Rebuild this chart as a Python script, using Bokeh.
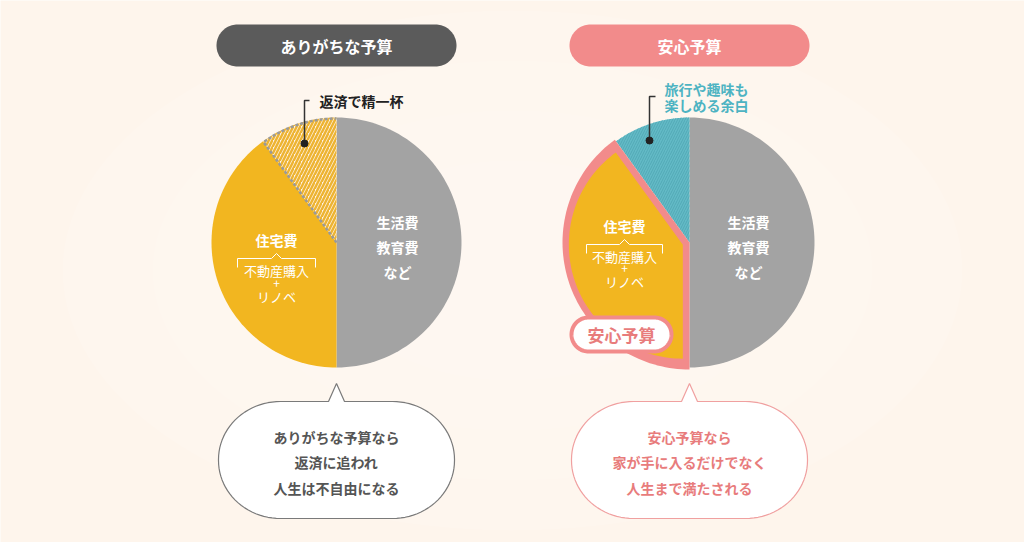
import numpy as np
from bokeh.plotting import figure
from bokeh.models import Range1d
from bokeh.core.properties import value
from bokeh.embed import file_html
from bokeh.resources import INLINE

# ---------------- data ----------------
panel_titles = ["ありがちな予算", "安心予算"]
left_shares = [0.5, 0.4, 0.1]      # 生活費など, 住宅費, 返済
right_shares = [0.5, 0.4, 0.1]     # 生活費など, 住宅費, 余白
gray_labels = ["生活費", "教育費", "など"]
house_title = "住宅費"
house_labels = ["不動産購入", "+", "リノベ"]
left_callout = ["返済で精一杯"]
right_callout = ["旅行や趣味も", "楽しめる余白"]
badge_label = "安心予算"
left_bubble = ["ありがちな予算なら", "返済に追われ", "人生は不自由になる"]
right_bubble = ["安心予算なら", "家が手に入るだけでなく", "人生まで満たされる"]

# ---------------- style ----------------
BG = "#FEF5EC"
GRAY = "#A3A3A3"
YELLOW = "#F2B620"
CYAN = "#63BAC6"
PINK = "#F28B8B"
DARK = "#5B5B5B"
FONT = value("Noto Sans CJK JP")

W, H = 1024, 542
p = figure(width=W, height=H, output_backend="svg", toolbar_location=None,
           x_range=Range1d(0, W), y_range=Range1d(H, 0), min_border=0)
p.axis.visible = False
p.grid.visible = False
p.outline_line_color = None
p.background_fill_color = BG
p.border_fill_color = BG

# subtle light glow in the middle
for k, a in enumerate([0.10, 0.10, 0.10, 0.10]):
    p.ellipse(x=512, y=270, width=900 - k * 180, height=520 - k * 100,
              fill_color="white", fill_alpha=a, line_color=None)


def wedge(cx, cy, r, f0, f1, n=80, center=True):
    t = np.linspace(f0, f1, n) * 2 * np.pi
    xs = list(cx + r * np.sin(t))
    ys = list(cy - r * np.cos(t))
    if center:
        xs = [cx] + xs
        ys = [cy] + ys
    return xs, ys


def rrect(x0, y0, x1, y1, rx, ry, n=24, notch=None):
    xs, ys = [], []
    xs.append(x0 + rx); ys.append(y0)
    if notch is not None:
        ncx, nw, tip = notch
        xs += [ncx - nw, ncx, ncx + nw]
        ys += [y0, y0 - tip, y0]
    corners = [((x1 - rx, y0 + ry), -90, 0), ((x1 - rx, y1 - ry), 0, 90),
               ((x0 + rx, y1 - ry), 90, 180), ((x0 + rx, y0 + ry), 180, 270)]
    for (ccx, ccy), a0, a1 in corners:
        t = np.radians(np.linspace(a0, a1, n))
        xs += list(ccx + rx * np.cos(t))
        ys += list(ccy + ry * np.sin(t))
    return xs, ys


def text(x, y, s, size, color, bold=True, align="center"):
    p.text(x=[x], y=[y], text=[s], text_font=FONT, text_font_size=f"{size}px",
           text_font_style="bold" if bold else "normal", text_color=color,
           text_align=align, text_baseline="middle")


R = 125
panels = [dict(cx=336, cy=242, shares=left_shares, title_color=DARK),
          dict(cx=689, cy=242, shares=right_shares, title_color=PINK)]

# title pills
for i, pn in enumerate(panels):
    xs, ys = rrect(pn["cx"] - 120, 24, pn["cx"] + 120, 66, 21, 21)
    p.patch(xs, ys, fill_color=pn["title_color"], line_color=None)
    text(pn["cx"], 45, panel_titles[i], 16, "white")

# ---------- left pie ----------
cx, cy = panels[0]["cx"], panels[0]["cy"]
c = np.cumsum([0] + left_shares)
xs, ys = wedge(cx, cy, R, c[0], c[1])
p.patch(xs, ys, fill_color=GRAY, line_color=None)
xs, ys = wedge(cx, cy, R, c[1], c[2])
p.patch(xs, ys, fill_color=YELLOW, line_color=None)
xs, ys = wedge(cx, cy, R, c[2], c[3])
p.patch(xs, ys, fill_color=BG, fill_alpha=1, hatch_pattern="/", hatch_color="#EDB432",
        hatch_scale=7, hatch_weight=2.5, line_color=None)
ax, ay = wedge(cx, cy, R - 1, c[2], c[3], center=False)
p.line([cx] + ax, [cy] + ay, line_color="#9A9A9A", line_width=2.5, line_dash="3 2")

# gray labels
for k, s in enumerate(gray_labels):
    text(cx + 61, 221 + k * 25, s, 14, "white")
# house labels
hx = 276
text(hx, 239, house_title, 14, "white")
p.multi_line(xs=[[hx - 39, hx - 39, hx - 5, hx, hx + 5, hx + 39, hx + 39]],
             ys=[[267, 258, 258, 253, 258, 258, 267]], line_color="white", line_width=1)
text(hx, 270, house_labels[0], 13, "white", bold=False)
text(hx, 283, house_labels[1], 12, "white", bold=False)
text(hx, 296, house_labels[2], 13, "white", bold=False)

# callout
p.line([309, 304, 304], [100, 100, 143], line_color="#333333", line_width=1.5)
p.scatter([304], [143], size=7, color="#222222")
text(319, 100, left_callout[0], 14, "#222222", align="left")

# ---------- right pie ----------
cx, cy = panels[1]["cx"], panels[1]["cy"]
c = np.cumsum([0] + right_shares)
xs, ys = wedge(cx, cy, R, c[0], c[1])
p.patch(xs, ys, fill_color=GRAY, line_color=None)
xs, ys = wedge(cx, cy, R, c[2], c[3])
p.patch(xs, ys, fill_color=CYAN, hatch_pattern="/", hatch_color="#52A9B6",
        hatch_scale=5, hatch_weight=1, line_color=None)
xs, ys = wedge(cx, cy, R + 2, c[1], c[2])
p.patch(xs, ys, fill_color=PINK, line_color=None)
bis = (c[1] + c[2]) / 2 * 2 * np.pi
sh = 7
icx, icy = cx + sh * np.sin(bis), cy - sh * np.cos(bis)
xs, ys = wedge(icx, icy, R - 11, c[1], c[2])
p.patch(xs, ys, fill_color=YELLOW, line_color=None)

for k, s in enumerate(gray_labels):
    text(cx + 59, 221 + k * 25, s, 14, "white")
hx = 624
text(hx, 225, house_title, 14, "white")
p.multi_line(xs=[[hx - 38, hx - 38, hx - 5, hx, hx + 5, hx + 38, hx + 38]],
             ys=[[253, 244, 244, 239, 244, 244, 253]], line_color="white", line_width=1)
text(hx, 256, house_labels[0], 13, "white", bold=False)
text(hx, 268, house_labels[1], 12, "white", bold=False)
text(hx, 281, house_labels[2], 13, "white", bold=False)

# badge
xs, ys = rrect(571, 317, 671, 351, 17, 17)
p.patch(xs, ys, fill_color="white", line_color=PINK, line_width=4)
text(621, 334, badge_label, 17, "#E87C7C")

# callout
p.line([655, 649, 649], [96, 96, 140], line_color="#333333", line_width=1.5)
p.scatter([649], [140], size=7, color="#222222")
text(664, 88, right_callout[0], 14, "#4DB3C2", align="left")
text(664, 104, right_callout[1], 14, "#4DB3C2", align="left")

# ---------- bubbles ----------
bub = [(panels[0]["cx"], "#7A7A7A", "#555555", left_bubble),
       (panels[1]["cx"], "#F0A0A0", "#E87C7C", right_bubble)]
for bx, lc, tc, lines in bub:
    xs, ys = rrect(bx - 118, 401, bx + 118, 518, 62, 58, notch=(bx, 8, 18))
    p.patch(xs, ys, fill_color="white", line_color=lc, line_width=1.2)
    for k, s in enumerate(lines):
        text(bx, 436 + k * 25.5, s, 14, tc)

open("out.html", "w").write(file_html(p, INLINE))
